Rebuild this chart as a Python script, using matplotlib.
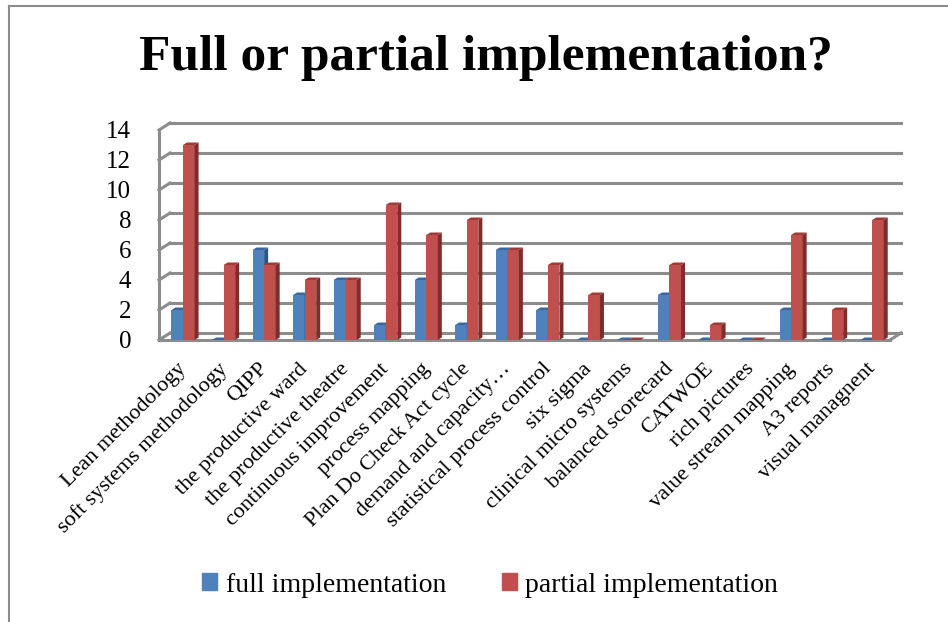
import matplotlib
matplotlib.use("Agg")
import matplotlib.pyplot as plt
import matplotlib.transforms as mtransforms
from matplotlib.patches import Polygon
from matplotlib.lines import Line2D
import numpy as np

categories = ["Lean methodology", "soft systems methodology", "QIPP",
              "the productive ward", "the productive theatre",
              "continuous improvement", "process mapping",
              "Plan Do Check Act cycle", "demand and capacity\u2026",
              "statistical process control", "six sigma",
              "clinical micro systems", "balanced scorecard", "CATWOE",
              "rich pictures", "value stream mapping", "A3 reports",
              "visual managnent"]
full_impl = [2, 0, 6, 3, 4, 1, 4, 1, 6, 2, 0, 0, 3, 0, 0, 2, 0, 0]
partial_impl = [13, 5, 5, 4, 4, 9, 7, 8, 6, 5, 3, 0, 5, 1, 0, 7, 2, 8]
y_ticks = [0, 2, 4, 6, 8, 10, 12, 14]

plt.rcParams['font.family'] = ['Liberation Serif', 'DejaVu Serif']

W, H = 948, 622
fig = plt.figure(figsize=(W / 100, H / 100), dpi=100)

# front plane of the 3d box, in pixels
left_px, right_px, bottom_px, top_px = 159, 890, 340, 130
ax = fig.add_axes([left_px / W, 1 - bottom_px / H,
                   (right_px - left_px) / W, (bottom_px - top_px) / H])
xl, xr = -0.593, 17.44
ax.set_xlim(xl, xr)
ax.set_ylim(0, 14)
for s in ax.spines.values():
    s.set_visible(False)

ppx = (right_px - left_px) / (xr - xl)      # pixels per x unit
ppy = (bottom_px - top_px) / 14.0           # pixels per y unit

# back wall offset and bar depth
wall_dx, wall_dy = 11 / ppx, 7 / ppy
bar_dx, bar_dy = 4 / ppx, 2.5 / ppy

grid_col = '#8c8c8c'
for v in y_ticks:
    ax.add_line(Line2D([xl + wall_dx, xr + wall_dx], [v + wall_dy, v + wall_dy],
                       color=grid_col, lw=2.2, clip_on=False, zorder=1))
    ax.add_line(Line2D([xl, xl + wall_dx], [v, v + wall_dy],
                       color=grid_col, lw=2.2, clip_on=False, zorder=1))
ax.add_line(Line2D([xl, xl], [0, 14], color=grid_col, lw=2.2, clip_on=False, zorder=1))
ax.add_line(Line2D([xl, xr], [0, 0], color=grid_col, lw=2.2, clip_on=False, zorder=1))
ax.add_line(Line2D([xr, xr + wall_dx], [0, wall_dy], color=grid_col, lw=2.2,
                   clip_on=False, zorder=1))

x = np.arange(len(categories))
w = 0.285


def bars3d(xs, vals, front, side, top, z):
    ax.bar(xs, vals, w, color=front, edgecolor='none', zorder=z)
    for xc, h in zip(xs, vals):
        x1 = xc + w / 2
        x0 = xc - w / 2
        ax.add_patch(Polygon([(x1, 0), (x1 + bar_dx, bar_dy), (x1 + bar_dx, h + bar_dy), (x1, h)],
                             closed=True, color=side, lw=0, zorder=z, clip_on=False))
        ax.add_patch(Polygon([(x0, h), (x1, h), (x1 + bar_dx, h + bar_dy), (x0 + bar_dx, h + bar_dy)],
                             closed=True, color=top, lw=0, zorder=z, clip_on=False))


bars3d(x - w / 2, full_impl, '#4f81bd', '#2f5588', '#3b679c', 3)
bars3d(x + w / 2, partial_impl, '#c0504d', '#7d2d2b', '#9e3b38', 4)

ax.set_yticks(y_ticks)
ax.set_yticklabels([str(v) for v in y_ticks], fontsize=18)
ax.set_xticks(x)
ax.set_xticklabels(categories, fontsize=16, rotation=45, ha='right',
                   rotation_mode='anchor')
ax.tick_params(axis='y', length=0, pad=20)
ax.tick_params(axis='x', length=0, pad=14)
shift = mtransforms.ScaledTranslation(-6 / 100, 0, fig.dpi_scale_trans)
for lab in ax.get_xticklabels():
    lab.set_transform(lab.get_transform() + shift)

fig.text(0.512, 1 - 58 / H, 'Full or partial implementation?', ha='center',
         va='center', fontsize=37, fontweight='bold')

handles = [plt.Rectangle((0, 0), 1, 1, color='#4f81bd'),
           plt.Rectangle((0, 0), 1, 1, color='#c0504d')]
fig.legend(handles, ['full implementation', 'partial implementation'],
           loc='center', bbox_to_anchor=(0.517, 1 - 585 / H), ncol=2,
           frameon=False, fontsize=20, handlelength=0.55, handleheight=0.55,
           handletextpad=0.3, columnspacing=2.0)

# chart border (left and top visible)
fig.add_artist(Line2D([8.5 / W, 8.5 / W], [0, 1 - 5.5 / H], color='#8c8c8c', lw=1.5))
fig.add_artist(Line2D([8.5 / W, 1], [1 - 5.5 / H, 1 - 5.5 / H], color='#8c8c8c', lw=1.5))

fig.savefig('out.png', dpi=100)
